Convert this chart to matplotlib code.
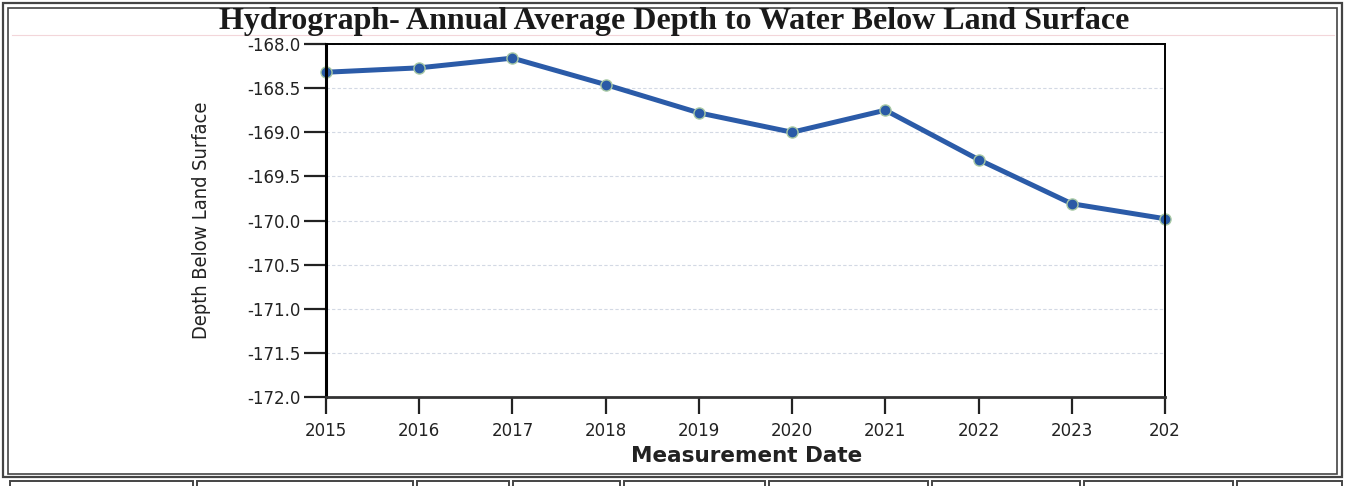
import matplotlib.pyplot as plt
from matplotlib.patches import Rectangle
from matplotlib.lines import Line2D

years = [2015, 2016, 2017, 2018, 2019, 2020, 2021, 2022, 2023, 2024]
depth = [-168.32, -168.27, -168.16, -168.46, -168.78, -169.00, -168.75, -169.31, -169.81, -169.98]
year_labels = ['2015', '2016', '2017', '2018', '2019', '2020', '2021', '2022', '2023', '202']
y_ticks = [-168.0, -168.5, -169.0, -169.5, -170.0, -170.5, -171.0, -171.5, -172.0]

W, H = 1346, 486
fig = plt.figure(figsize=(W / 100, H / 100), dpi=100)
fig.patch.set_facecolor('white')

def fx(px):
    return px / W

def fy(py):
    return 1 - py / H

# plot area
ax = fig.add_axes([fx(326), fy(397), fx(1165) - fx(326), fy(44) - fy(397)])
ax.plot(years, depth, color='#2b5ba8', lw=3.6, marker='o', ms=8,
        markerfacecolor='#2a5aa6', markeredgecolor='#a8c9a4', markeredgewidth=1.0,
        solid_joinstyle='round', zorder=3, clip_on=False)

ax.set_xlim(2015, 2024)
ax.set_ylim(-172.0, -168.0)
ax.set_xticks(years)
ax.set_xticklabels(year_labels)
ax.set_yticks(y_ticks)
ax.set_yticklabels(['%.1f' % v for v in y_ticks])
ax.grid(axis='y', color='#d3d9e4', lw=0.8, ls=(0, (3, 2)))
ax.set_axisbelow(True)

ax.tick_params(axis='both', direction='out', width=1.6, color='#222222',
               labelsize=12, labelcolor='#222222')
ax.tick_params(axis='y', length=16, pad=2)
ax.tick_params(axis='x', length=12, pad=6)
for lab in ax.get_xticklabels() + ax.get_yticklabels():
    lab.set_family('DejaVu Sans')

ax.spines['left'].set_linewidth(2.2)
ax.spines['bottom'].set_linewidth(2.0)
ax.spines['bottom'].set_color('#333333')
ax.spines['top'].set_linewidth(1.4)
ax.spines['right'].set_linewidth(1.4)
for s in ax.spines.values():
    s.set_zorder(4)

ax.set_xlabel('Measurement Date', fontsize=15.5, fontweight='bold', color='#222222',
              family='DejaVu Sans')
ax.xaxis.set_label_coords((747 - 326) / (1165 - 326), -0.138)
ax.set_ylabel('Depth Below Land Surface', fontsize=14.3, color='#222222',
              family='DejaVu Sans', fontstretch='condensed', fontweight='medium')
ax.yaxis.set_label_coords((211 - 326) / (1165 - 326), 0.5)

fig.text(fx(674), fy(21), 'Hydrograph- Annual Average Depth to Water Below Land Surface',
         ha='center', va='center', fontsize=23, fontweight='bold',
         family='Liberation Serif', color='#1a1a1a')

# faint rule under the title
fig.add_artist(Line2D([fx(12), fx(1334)], [fy(35), fy(35)], color='#f3d6da', lw=0.8))

# page frame (double border)
frame_col = '#444444'
fig.add_artist(Rectangle((fx(3), fy(477)), fx(1342) - fx(3), fy(3) - fy(477),
                         fill=False, ec=frame_col, lw=1.6))
fig.add_artist(Rectangle((fx(8), fy(474)), fx(1337) - fx(8), fy(8) - fy(474),
                         fill=False, ec=frame_col, lw=1.2))

# row of table cells along the bottom
cells = [(10, 193), (197, 413), (417, 509), (513, 620), (624, 765),
         (769, 928), (932, 1080), (1084, 1233), (1237, 1342)]
for a, b in cells:
    fig.add_artist(Rectangle((fx(a), fy(492)), fx(b) - fx(a), fy(481) - fy(492),
                             fill=False, ec=frame_col, lw=1.4))

fig.savefig('out.png', dpi=100, facecolor='white')
